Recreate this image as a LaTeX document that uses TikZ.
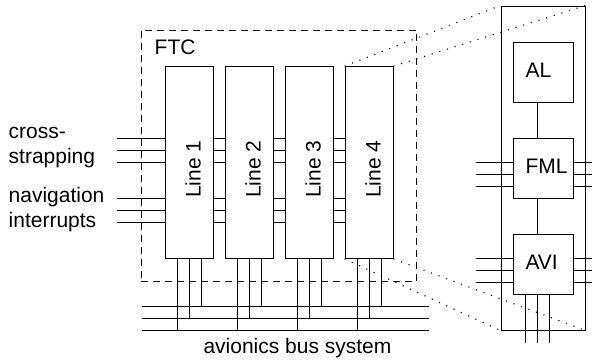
\documentclass[tikz,border=0pt]{standalone}
\usepackage{fontspec}
\setmainfont{Liberation Sans}
\usetikzlibrary{positioning}
\tikzset{
  wire/.style   = {line width=1pt},
  unit/.style   = {draw, line width=1pt, inner sep=0pt, minimum width=48pt,
                   minimum height=191.7pt},
  blk/.style    = {draw, line width=1pt, inner sep=0pt, minimum size=60pt},
  frame/.style  = {draw, line width=1pt, dash pattern=on 7pt off 5pt, inner sep=0pt},
  zoomln/.style = {line width=1.1pt, dash pattern=on 1.1pt off 6.9pt},
  lbl/.style    = {inner sep=0pt, font=\fontsize{21}{25}\selectfont},
}
\begin{document}
\begin{tikzpicture}[x=1pt,y=-1pt]
 \useasboundingbox (0,0) rectangle (592,362);
 % FTC frame
 \node[frame, minimum width=275.7pt, minimum height=251.7pt] (ftc) at (278.85,155.85) {};
 \node[lbl, anchor=base west] (ftclbl) at (154.5,54) {FTC};
 % 1: the four lines
 \foreach \i in {1,...,4}{
   \node[unit] (l\i) at ({189+60*(\i-1)},162.5) {};
   \node[lbl, rotate=90] (l\i-lbl) at ([shift={(4,6.7)}]l\i.center) {Line \i};}
 % 2: inputs and cross links
 \foreach \y in {138,150,162,198,210,222}{
   \coordinate (in\y) at (116.7,\y);
   \draw[wire] (in\y) -- (l1.west |- 0,\y);
   \foreach \a/\b in {1/2,2/3,3/4}{
     \draw[wire] (l\a.east |- 0,\y) -- (l\b.west |- 0,\y);}}
 \node[lbl, anchor=west, align=left] (cs) at (8.5,147.5) {cross-\\strapping};
 \node[lbl, anchor=west, align=left] (nav) at (8.5,209.5) {navigation\\interrupts};
 % 3: avionics bus
 \foreach \y/\n in {306/a,318.3/b,330/c}{
   \coordinate (bus\n-w) at (141.7,\y);
   \coordinate (bus\n-e) at (429.3,\y);
   \draw[wire] (bus\n-w) -- (bus\n-e);}
 \foreach \i in {1,...,4}{
   \draw[wire] ([xshift=-12pt]l\i.south) -- ([xshift=-12pt]l\i.south |- busc-w);
   \draw[wire] (l\i.south) -- (l\i.south |- busb-w);
   \draw[wire] ([xshift=12pt]l\i.south) -- ([xshift=12pt]l\i.south |- busa-w);}
 \node[lbl, anchor=base] (bus) at (297.5,353) {avionics bus system};
 % 4: inside one line
 \node[draw, wire, inner sep=0pt, minimum width=84pt, minimum height=324pt] (zoom) at (543,168) {};
 \node[blk] (al)  at (543.3,72.3)  {};
 \node[blk] (fml) at (543.3,168.3) {};
 \node[blk] (avi) at (543.3,264.3) {};
 \foreach \b/\t in {al/AL,fml/FML,avi/AVI}{
   \node[lbl, anchor=west] (\b-lbl) at ([shift={(-18,-1.7)}]\b.center) {\t};}
 \draw[wire] ([xshift=-6pt]al.south) -- ([xshift=-6pt]fml.north);
 \draw[wire] ([xshift=-6pt]fml.south) -- ([xshift=-6pt]avi.north);
 \foreach \b in {fml,avi}{
   \foreach \d/\n in {-6/a,6/b,18/c}{
     \coordinate (\b-w\n) at ([shift={(-36.6,\d)}]\b.west);
     \coordinate (\b-e\n) at ([shift={(19,\d)}]\b.east);
     \draw[wire] (\b-w\n) -- ([shift={(0,\d)}]\b.west);
     \draw[wire] ([shift={(0,\d)}]\b.east) -- (\b-e\n);}}
 \foreach \d/\n in {-18/a,-6/b,6/c}{
   \coordinate (avi-s\n) at ([shift={(\d,48)}]avi.south);
   \draw[wire] ([shift={(\d,0)}]avi.south) -- (avi-s\n);}
 % zoom lines
 \draw[zoomln] (l4.north west) -- (zoom.north west);
 \draw[zoomln] (l4.north east) -- (zoom.north east);
 \draw[zoomln] (l4.south west) -- (zoom.south west);
 \draw[zoomln] (l4.south east) -- (zoom.south east);
\end{tikzpicture}
\end{document}
